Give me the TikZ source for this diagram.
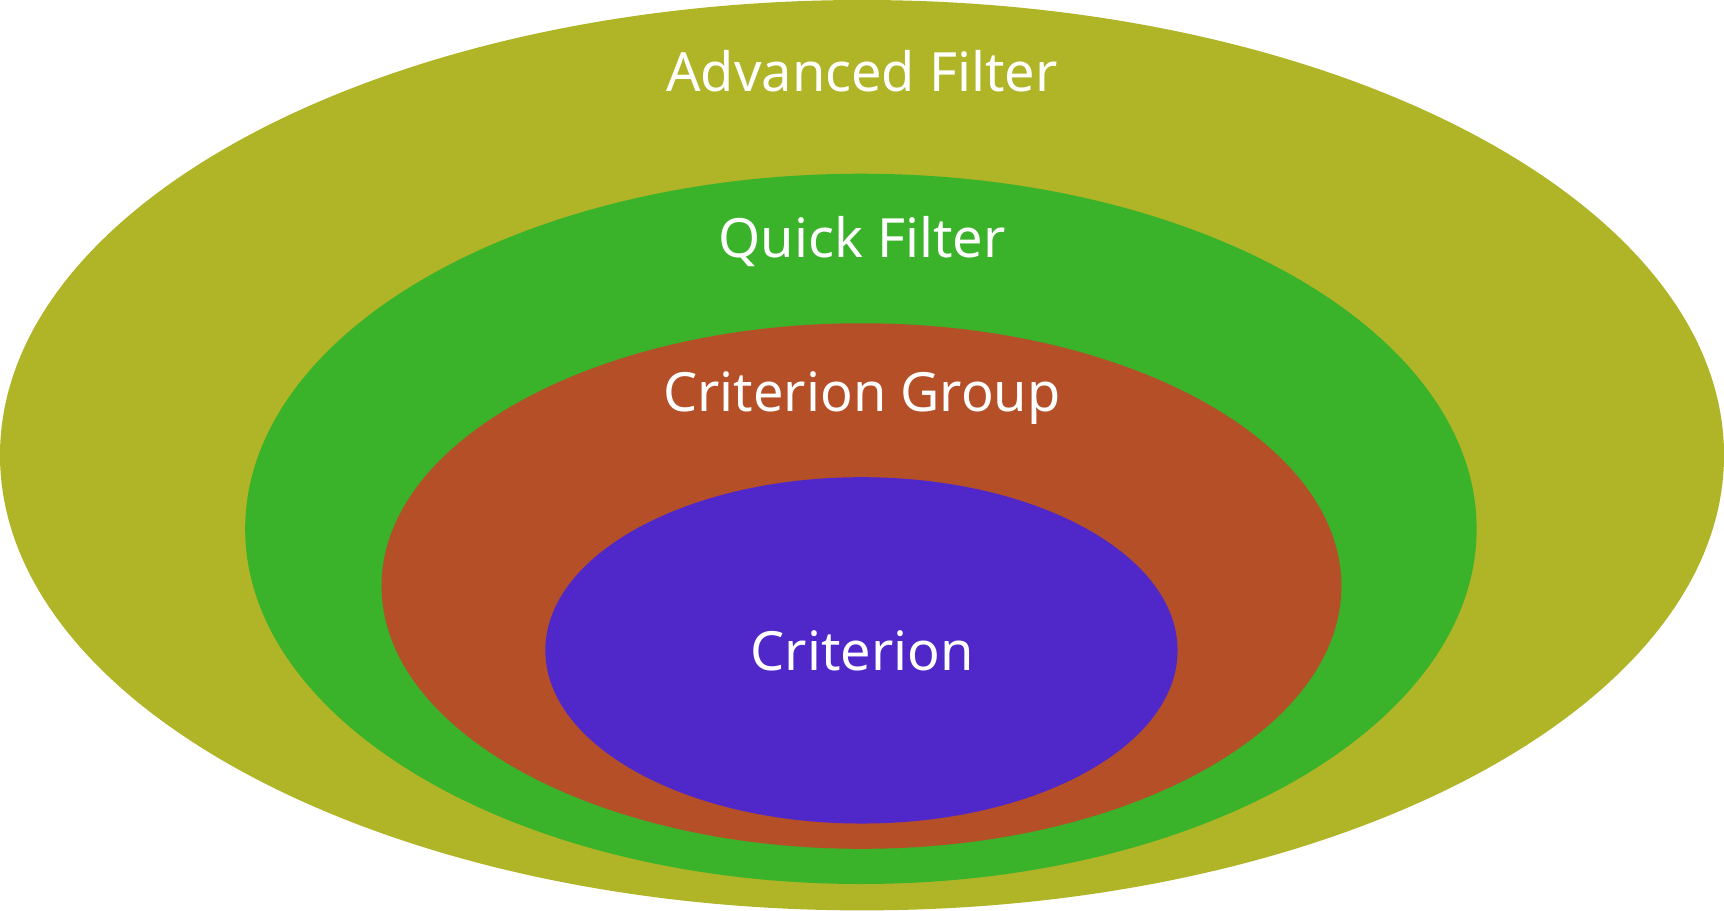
\documentclass[tikz,border=0pt]{standalone}
\usepackage{fontspec}
\setmainfont{Noto Sans}
\usetikzlibrary{shapes.geometric}
\definecolor{advcol}{HTML}{B0B427}
\definecolor{quickcol}{HTML}{3AB22A}
\definecolor{groupcol}{HTML}{B44F28}
\definecolor{critcol}{HTML}{5028CA}
\begin{document}
\begin{tikzpicture}
      \tikzset{layer/.style={ellipse, inner sep=0pt, draw=none},
               caption/.style={text=white, font=\fontsize{14}{16}\selectfont}}
      \useasboundingbox (0,0) rectangle (15.68,-8.28);
%% Layers
      	\node[layer, fill=advcol, minimum width=15.68cm, minimum height=8.28cm] (adv) at (7.84,-4.14) {};
      	\node[layer, fill=quickcol, minimum width=11.20cm, minimum height=6.46cm] (quick) at (7.83,-4.81) {};
      	\node[layer, fill=groupcol, minimum width=8.73cm, minimum height=4.78cm] (group) at (7.835,-5.33) {};
      	\node[layer, fill=critcol, minimum width=5.75cm, minimum height=3.15cm] (crit) at (7.835,-5.915) {};
%Labels
		\node[caption] (advlabel) at (7.84,-0.65) {Advanced Filter};
		\node[caption] (quicklabel) at (7.84,-2.20) {Quick Filter};
		\node[caption] (grouplabel) at (7.84,-3.62) {Criterion Group};
		\node[caption] (critlabel) at (7.84,-5.92) {Criterion};

	\end{tikzpicture}
\end{document}
